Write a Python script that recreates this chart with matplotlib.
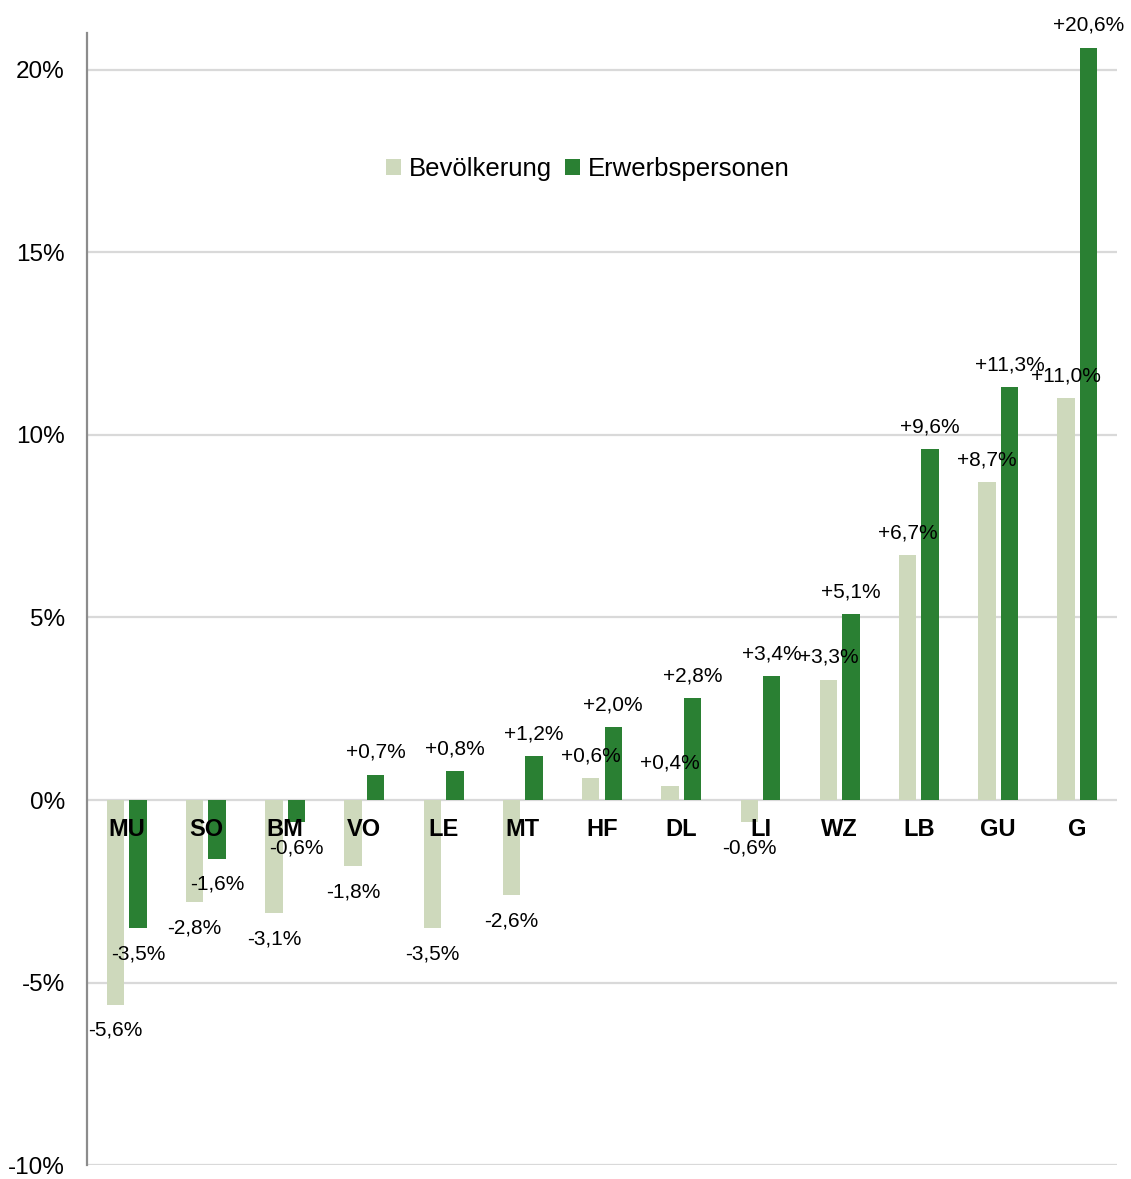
import matplotlib.pyplot as plt
import numpy as np
from matplotlib.ticker import FuncFormatter, MultipleLocator

plt.rcParams["font.family"] = ["Liberation Sans", "DejaVu Sans"]

# ---------- DONNEES ----------
kreise = ["MU", "SO", "BM", "VO", "LE", "MT", "HF", "DL", "LI", "WZ", "LB", "GU", "G"]
bevoelkerung = [-5.6, -2.8, -3.1, -1.8, -3.5, -2.6, 0.6, 0.4, -0.6, 3.3, 6.7, 8.7, 11.0]
erwerbspersonen = [-3.5, -1.6, -0.6, 0.7, 0.8, 1.2, 2.0, 2.8, 3.4, 5.1, 9.6, 11.3, 20.6]

LIGHT = "#CED9BC"
DARK = "#2A8033"
GRID = "#D9D9D9"


def fmt_label(v):
    return f"{v:+.1f}%".replace(".", ",")


fig = plt.figure(figsize=(11.31, 11.79), dpi=100)
ax = fig.add_axes([0.077, 0.0115, 0.9106, 0.9605])

x = np.arange(len(kreise))
off = 0.142
width = 0.22

ax.bar(x - off, bevoelkerung, width=width, color=LIGHT, label="Bevölkerung", zorder=2)
ax.bar(x + off, erwerbspersonen, width=width, color=DARK, label="Erwerbspersonen", zorder=2)

# data labels
for xs, vals in ((x - off, bevoelkerung), (x + off, erwerbspersonen)):
    for xi, v in zip(xs, vals):
        dy = 16 if v >= 0 else -18.5
        ax.annotate(
            fmt_label(v),
            xy=(xi, v),
            xytext=(0, dy),
            textcoords="offset points",
            ha="center",
            va="center",
            fontsize=15,
            color="black",
            zorder=4,
        )

# category labels right under the zero line
for xi, name in zip(x, kreise):
    ax.annotate(
        name,
        xy=(xi, 0),
        xytext=(0, -21),
        textcoords="offset points",
        ha="center",
        va="center",
        fontsize=17,
        fontweight="bold",
        zorder=5,
    )

ax.set_xlim(-0.5, len(kreise) - 0.5)
ax.set_ylim(-10, 21)
ax.yaxis.set_major_locator(MultipleLocator(5))
ax.yaxis.set_major_formatter(FuncFormatter(lambda v, p: f"{v:.0f}%"))
ax.set_xticks([])
ax.tick_params(axis="y", length=0, pad=16, labelsize=17.5)

ax.yaxis.grid(True, color=GRID, linewidth=1.6, zorder=0)
ax.set_axisbelow(True)
for s in ["top", "right", "bottom"]:
    ax.spines[s].set_visible(False)
ax.spines["left"].set_color("#8C8C8C")
ax.spines["left"].set_linewidth(1.6)

leg = ax.legend(
    loc="center",
    bbox_to_anchor=(0.486, 0.880),
    ncol=2,
    frameon=False,
    fontsize=18.5,
    handlelength=0.6,
    handleheight=0.6,
    handletextpad=0.3,
    columnspacing=0.5,
)

fig.savefig("out.png", dpi=100)
plt.close(fig)
